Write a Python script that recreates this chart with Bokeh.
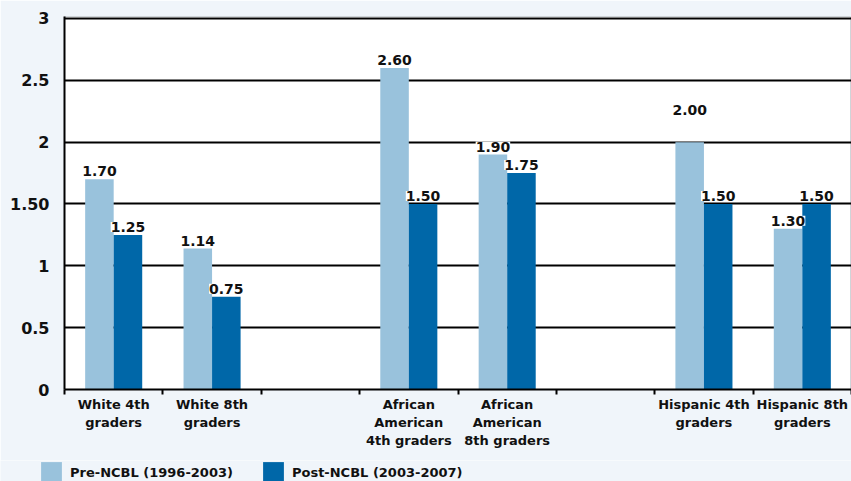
from bokeh.plotting import figure
from bokeh.layouts import column
from bokeh.models import (ColumnDataSource, FixedTicker, LabelSet, Legend,
                          LegendItem, Range1d)
from bokeh.core.properties import value
from bokeh.embed import file_html
from bokeh.resources import INLINE

# ---- data ----
categories = ["White 4th\ngraders", "White 8th\ngraders",
              "African\nAmerican\n4th graders", "African\nAmerican\n8th graders",
              "Hispanic 4th\ngraders", "Hispanic 8th\ngraders"]
pre_values = [1.70, 1.14, 2.60, 1.90, 2.00, 1.30]
post_values = [1.25, 0.75, 1.50, 1.75, 1.50, 1.50]
series_names = ["Pre-NCBL (1996-2003)", "Post-NCBL (2003-2007)"]
y_ticks = [0, 0.5, 1, 1.5, 2, 2.5, 3]
y_tick_labels = ["0", "0.5", "1", "1.50", "2", "2.5", "3"]

# ---- styling ----
LIGHT = "#99c2dc"
DARK = "#0067a8"
BG = "#f0f5fa"
FONT = "DejaVu Sans"
BAR_W = 0.29
pre_label_nudge = [0, 0, 0, 0, 24, 0]   # extra px lift for value labels
post_label_nudge = [0, 0, 0, 0, 0, 0]

# slot layout: pairs of categories separated by an empty slot
centers = [i + (i // 2) + 0.5 for i in range(len(categories))]
n_slots = int(max(centers) + 0.5)

pre_src = ColumnDataSource(dict(
    x=[c - BAR_W / 2 for c in centers], top=pre_values,
    lab=[f"{v:.2f}" for v in pre_values],
    off=[3 + n for n in pre_label_nudge]))
post_src = ColumnDataSource(dict(
    x=[c + BAR_W / 2 for c in centers], top=post_values,
    lab=[f"{v:.2f}" for v in post_values],
    off=[3 + n for n in post_label_nudge]))

p = figure(width=851, height=460, output_backend="svg", toolbar_location=None,
           x_range=Range1d(0, n_slots), y_range=Range1d(0, 3.016),
           min_border_left=64, min_border_right=0, min_border_top=16,
           min_border_bottom=71)
p.background_fill_color = "white"
p.border_fill_color = BG
p.outline_line_color = "#cfd4d8"
p.outline_line_width = 1

r1 = p.vbar(x="x", top="top", width=BAR_W, source=pre_src,
            fill_color=LIGHT, line_color=None)
r2 = p.vbar(x="x", top="top", width=BAR_W, source=post_src,
            fill_color=DARK, line_color=None)

# grid
p.xgrid.visible = False
p.ygrid.ticker = FixedTicker(ticks=y_ticks)
p.ygrid.grid_line_color = "black"
p.ygrid.grid_line_width = 2
p.ygrid.level = "underlay"

# y axis
p.yaxis.ticker = FixedTicker(ticks=y_ticks)
p.yaxis.major_label_overrides = {t: l for t, l in zip(y_ticks, y_tick_labels)}
p.yaxis.major_tick_out = 0
p.yaxis.major_tick_in = 0
p.yaxis.minor_tick_out = 0
p.yaxis.axis_line_width = 2
p.yaxis.axis_line_color = "black"
p.yaxis.major_label_standoff = 15
p.yaxis.major_label_text_font = FONT
p.yaxis.major_label_text_font_style = "bold"
p.yaxis.major_label_text_font_size = "16px"
p.yaxis.major_label_text_color = "#111111"

# x axis
p.xaxis.ticker = FixedTicker(ticks=centers,
                             minor_ticks=list(range(0, n_slots + 1)))
p.xaxis.major_label_overrides = {c: l for c, l in zip(centers, categories)}
p.xaxis.major_tick_out = 0
p.xaxis.major_tick_in = 0
p.xaxis.minor_tick_out = 5
p.xaxis.minor_tick_in = 0
p.xaxis.minor_tick_line_width = 2
p.xaxis.minor_tick_line_color = "black"
p.xaxis.axis_line_width = 2
p.xaxis.axis_line_color = "black"
p.xaxis.major_label_standoff = 2
p.xaxis.major_label_text_font = FONT
p.xaxis.major_label_text_font_style = "bold"
p.xaxis.major_label_text_font_size = "13px"
p.xaxis.major_label_text_color = "#111111"
p.xaxis.major_label_text_line_height = 1.2

# value labels
for src in (pre_src, post_src):
    ls = LabelSet(x="x", y="top", text="lab", source=src, y_offset="off",
                  text_align="center", text_baseline="alphabetic",
                  text_font=value(FONT), text_font_style="bold",
                  text_font_size="14px", text_color="#111111",
                  background_fill_color="white")
    p.add_layout(ls)

# legend strip below the chart
pl = figure(width=851, height=21, output_backend="svg", toolbar_location=None,
            x_range=Range1d(0, 1), y_range=Range1d(0, 1),
            x_axis_type=None, y_axis_type=None,
            min_border_left=0, min_border_right=0, min_border_top=0,
            min_border_bottom=0)
pl.background_fill_color = BG
pl.border_fill_color = BG
pl.outline_line_color = None
pl.xgrid.visible = False
pl.ygrid.visible = False
d1 = pl.vbar(x=[5], top=[0], width=0.1, fill_color=LIGHT, line_color=None)
d2 = pl.vbar(x=[5], top=[0], width=0.1, fill_color=DARK, line_color=None)

legend_x = 38
try:
    p.frame_align = False
    pl.frame_align = False
except Exception:
    legend_x = 38 - 64

legend = Legend(items=[LegendItem(label=series_names[0], renderers=[d1]),
                       LegendItem(label=series_names[1], renderers=[d2])],
                orientation="horizontal", location=(legend_x, -4),
                glyph_width=26, glyph_height=26, label_height=26,
                label_standoff=6, spacing=27, padding=0, margin=0,
                border_line_alpha=0, background_fill_alpha=0,
                label_text_font=FONT, label_text_font_style="bold",
                label_text_font_size="13px", label_text_color="#111111")
pl.add_layout(legend, "center")

layout = column(p, pl, spacing=0)
open("out.html", "w").write(file_html(layout, INLINE))
